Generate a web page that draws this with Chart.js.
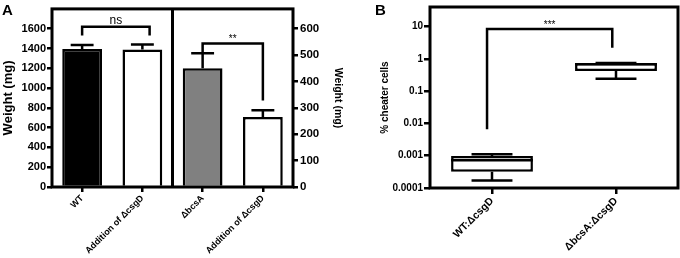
<!DOCTYPE html>
<html>
<head>
<meta charset="utf-8">
<script src="https://cdn.jsdelivr.net/npm/chart.js@4.4.0/dist/chart.umd.min.js"></script>
<style>
body { margin: 0; background: #fff; width: 680px; height: 258px; overflow: hidden; position: relative; }
#chartA { position: absolute; left: 0; top: 0; }
#chartB { position: absolute; left: 355px; top: 0; }
</style>
</head>
<body>
<canvas id="chartA" width="350" height="258"></canvas>
<canvas id="chartB" width="325" height="258"></canvas>
<script>
// panel A - biofilm weight
var weightLabels = ['WT', 'Addition of \u0394csgD', '\u0394bcsA', 'Addition of \u0394csgD'];
var weightLeft = [1395, 1390, null, null];   // left axis (mg)
var weightRight = [null, null, 450, 265];    // right axis (mg)
var weightErr = [40, 50, 57, 26];
var barColors = ['#000000', '#ffffff', '#808080', '#ffffff'];
var leftTicks = [0, 200, 400, 600, 800, 1000, 1200, 1400, 1600];
var rightTicks = [0, 100, 200, 300, 400, 500, 600];

// panel B - % cheater cells (box plot)
var cheaterLabels = ['WT:\u0394csgD', '\u0394bcsA:\u0394csgD'];
var cheaterMin = [0.00017, 0.24];
var cheaterQ1 = [0.00032, 0.42];
var cheaterMedian = [0.00072, 0.68];
var cheaterQ3 = [0.00098, 0.74];
var cheaterMax = [0.0011, 0.74];
var logTicks = [0.0001, 0.001, 0.01, 0.1, 1, 10];
var logTickLabels = ['0.0001', '0.001', '0.01', '0.1', '1', '10'];

var FONT = '"Liberation Sans", Arial, sans-serif';
Chart.defaults.font.family = FONT;
Chart.defaults.color = '#000';

function axisGrid(len) {
    return { display: true, drawOnChartArea: false, drawTicks: true, tickLength: len, color: '#000', lineWidth: 2.5 };
}
function plain(v) { return String(v); }

var panelA = {
    id: 'panelA',
    afterDatasetsDraw: function (chart) {
        var ctx = chart.ctx, x = chart.scales.x;
        var cw = x.getPixelForValue(1) - x.getPixelForValue(0);
        ctx.save();
        ctx.strokeStyle = '#000';
        ctx.lineWidth = 2.5;
        for (var i = 0; i < weightLabels.length; i++) {
            var v = weightLeft[i] != null ? weightLeft[i] : weightRight[i];
            var s = weightLeft[i] != null ? chart.scales.y : chart.scales.y2;
            var px = x.getPixelForValue(i);
            var y0 = s.getPixelForValue(v), y1 = s.getPixelForValue(v + weightErr[i]);
            ctx.beginPath();
            ctx.moveTo(px, y0); ctx.lineTo(px, y1);
            ctx.moveTo(px - cw * 0.19, y1); ctx.lineTo(px + cw * 0.19, y1);
            ctx.stroke();
        }
        ctx.restore();
    },
    afterDraw: function (chart) {
        var ctx = chart.ctx, a = chart.chartArea, x = chart.scales.x;
        var y = chart.scales.y, y2 = chart.scales.y2;
        ctx.save();
        ctx.strokeStyle = '#000';
        ctx.lineWidth = 3;
        ctx.strokeRect(a.left, a.top, a.right - a.left, a.bottom - a.top);
        var dx = x.getPixelForValue(1.5);
        ctx.beginPath(); ctx.moveTo(dx, a.top); ctx.lineTo(dx, a.bottom); ctx.stroke();

        // brackets
        ctx.lineWidth = 2.5;
        var l = x.getPixelForValue(0), r = x.getPixelForValue(1.12);
        var t = y.getPixelForValue(1620), b = y.getPixelForValue(1530);
        ctx.beginPath();
        ctx.moveTo(l, b); ctx.lineTo(l, t); ctx.lineTo(r, t); ctx.lineTo(r, b);
        ctx.stroke();
        ctx.fillStyle = '#000';
        ctx.textAlign = 'center';
        ctx.textBaseline = 'alphabetic';
        ctx.font = '12px ' + FONT;
        ctx.fillText('ns', (l + r) / 2, t - 3);

        l = x.getPixelForValue(2); r = x.getPixelForValue(3);
        t = y2.getPixelForValue(544);
        ctx.beginPath();
        ctx.moveTo(l, y2.getPixelForValue(507)); ctx.lineTo(l, t);
        ctx.lineTo(r, t); ctx.lineTo(r, y2.getPixelForValue(328));
        ctx.stroke();
        ctx.font = '10px ' + FONT;
        ctx.fillText('**', (l + r) / 2, t - 1);

        ctx.textAlign = 'left';
        ctx.font = 'bold 15px ' + FONT;
        ctx.fillText('A', 2, 15);
        ctx.restore();
    }
};

new Chart(document.getElementById('chartA'), {
    type: 'bar',
    data: {
        labels: weightLabels,
        datasets: [
            { data: weightLeft, yAxisID: 'y', backgroundColor: barColors },
            { data: weightRight, yAxisID: 'y2', backgroundColor: barColors }
        ]
    },
    options: {
        responsive: false,
        animation: false,
        events: [],
        layout: { padding: { left: 0, top: 4, right: 0, bottom: 0 } },
        datasets: { bar: { grouped: false, barPercentage: 0.66, categoryPercentage: 1, borderColor: '#000', borderWidth: 2.5 } },
        plugins: { legend: { display: false }, tooltip: { enabled: false } },
        scales: {
            x: {
                offset: true,
                grid: Object.assign(axisGrid(5), { offset: false }),
                border: { display: false },
                ticks: { autoSkip: false, minRotation: 45, maxRotation: 45, padding: 1, color: '#000', font: { size: 9, weight: 'bold' } },
                afterFit: function (s) { s.height = 71; }
            },
            y: {
                position: 'left',
                min: 0, max: 1800,
                afterBuildTicks: function (ax) { ax.ticks = leftTicks.map(function (v) { return { value: v }; }); },
                grid: axisGrid(5),
                border: { display: false },
                ticks: { padding: 1, color: '#000', font: { size: 11, weight: 'bold' }, callback: plain },
                title: { display: true, text: 'Weight (mg)', color: '#000', font: { size: 13, weight: 'bold' }, padding: { top: 1, bottom: 0 } },
                afterFit: function (s) { s.width = 52; }
            },
            y2: {
                position: 'right',
                min: 0, max: 675,
                afterBuildTicks: function (ax) { ax.ticks = rightTicks.map(function (v) { return { value: v }; }); },
                grid: axisGrid(5),
                border: { display: false },
                ticks: { padding: 2, color: '#000', font: { size: 11.5, weight: 'bold' }, callback: plain },
                title: { display: true, text: 'Weight (mg)', color: '#000', font: { size: 10.5, weight: 'bold' }, padding: { top: 6, bottom: 0 } },
                afterFit: function (s) { s.width = 57; }
            }
        }
    },
    plugins: [panelA]
});

var panelB = {
    id: 'panelB',
    afterDatasetsDraw: function (chart) {
        var ctx = chart.ctx, x = chart.scales.x, y = chart.scales.y;
        var meta = chart.getDatasetMeta(0);
        ctx.save();
        ctx.strokeStyle = '#000';
        ctx.lineWidth = 2.5;
        for (var i = 0; i < cheaterLabels.length; i++) {
            var px = x.getPixelForValue(i);
            var hw = meta.data[i].width / 2;
            var cap = hw * 0.5;
            var ym = y.getPixelForValue(cheaterMedian[i]);
            var yq1 = y.getPixelForValue(cheaterQ1[i]), yq3 = y.getPixelForValue(cheaterQ3[i]);
            var ymin = y.getPixelForValue(cheaterMin[i]), ymax = y.getPixelForValue(cheaterMax[i]);
            ctx.beginPath();
            ctx.moveTo(px - hw, ym); ctx.lineTo(px + hw, ym);
            ctx.moveTo(px, yq1); ctx.lineTo(px, ymin);
            ctx.moveTo(px - cap, ymin); ctx.lineTo(px + cap, ymin);
            ctx.moveTo(px, yq3); ctx.lineTo(px, ymax);
            ctx.moveTo(px - cap, ymax); ctx.lineTo(px + cap, ymax);
            ctx.stroke();
        }
        ctx.restore();
    },
    afterDraw: function (chart) {
        var ctx = chart.ctx, a = chart.chartArea, x = chart.scales.x, y = chart.scales.y;
        ctx.save();
        ctx.strokeStyle = '#000';
        ctx.lineWidth = 3;
        ctx.strokeRect(a.left, a.top, a.right - a.left, a.bottom - a.top);
        ctx.lineWidth = 2.5;
        var l = x.getPixelForValue(-0.04), r = x.getPixelForValue(0.97);
        var t = y.getPixelForValue(8.3);
        ctx.beginPath();
        ctx.moveTo(l, y.getPixelForValue(0.0066)); ctx.lineTo(l, t);
        ctx.lineTo(r, t); ctx.lineTo(r, y.getPixelForValue(2.2));
        ctx.stroke();
        ctx.fillStyle = '#000';
        ctx.textAlign = 'center';
        ctx.textBaseline = 'alphabetic';
        ctx.font = '10px ' + FONT;
        ctx.fillText('***', (l + r) / 2, t - 1);
        ctx.textAlign = 'left';
        ctx.font = 'bold 15px ' + FONT;
        ctx.fillText('B', 20, 15);
        ctx.restore();
    }
};

new Chart(document.getElementById('chartB'), {
    type: 'bar',
    data: {
        labels: cheaterLabels,
        datasets: [{
            data: cheaterQ1.map(function (q, i) { return [q, cheaterQ3[i]]; }),
            backgroundColor: '#ffffff',
            borderColor: '#000',
            borderWidth: 2.5,
            borderSkipped: false,
            barPercentage: 0.66,
            categoryPercentage: 1
        }]
    },
    options: {
        responsive: false,
        animation: false,
        events: [],
        layout: { padding: { left: 20, top: 4, right: 2, bottom: 0 } },
        plugins: { legend: { display: false }, tooltip: { enabled: false } },
        scales: {
            x: {
                offset: true,
                grid: Object.assign(axisGrid(6), { offset: false }),
                border: { display: false },
                ticks: { autoSkip: false, minRotation: 45, maxRotation: 45, padding: 1, color: '#000', font: { size: 10.5, weight: 'bold' } },
                afterFit: function (s) { s.height = 70; }
            },
            y: {
                type: 'logarithmic',
                min: 0.0001, max: 40,
                afterBuildTicks: function (ax) { ax.ticks = logTicks.map(function (v) { return { value: v }; }); },
                grid: axisGrid(6),
                border: { display: false },
                ticks: { padding: 1, color: '#000', font: { size: 10, weight: 'bold' },
                    callback: function (v, i) { return logTickLabels[i]; } },
                title: { display: true, text: '% cheater cells', color: '#000', font: { size: 10, weight: 'bold' }, padding: { top: 4, bottom: 0 } },
                afterFit: function (s) { s.width = 55; }
            }
        }
    },
    plugins: [panelB]
});
</script>
</body>
</html>
